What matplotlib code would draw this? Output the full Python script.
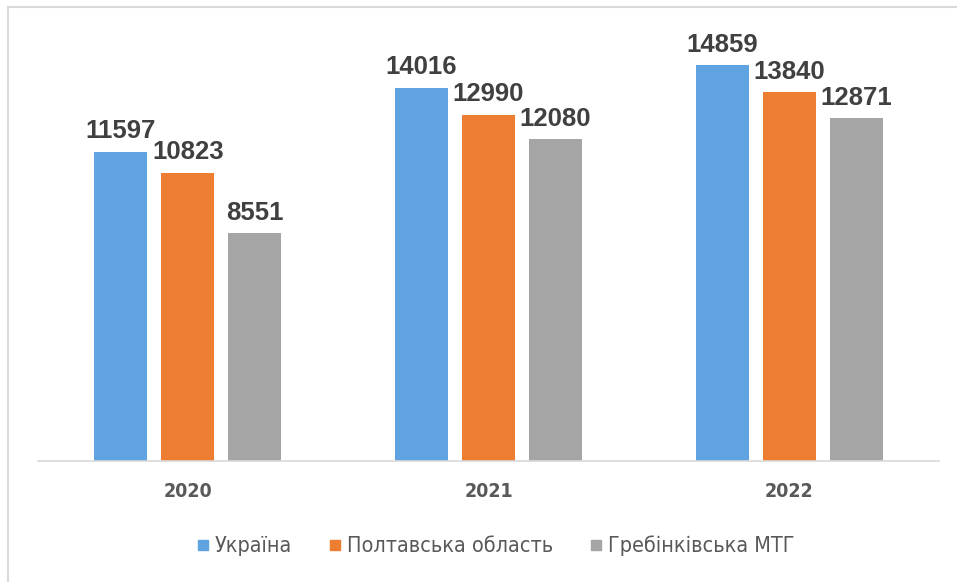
import matplotlib.pyplot as plt
from matplotlib.lines import Line2D
import numpy as np

# Дані
years = ['2020', '2021', '2022']
series = ['Україна', 'Полтавська область', 'Гребінківська МТГ']
ukraine = [11597, 14016, 14859]
poltava = [10823, 12990, 13840]
grebinka = [8551, 12080, 12871]
colors = ['#5FA3E0', '#ED7D31', '#A5A5A5']

fig = plt.figure(figsize=(9.57, 5.82), dpi=100)
ax = fig.add_axes([0.0392, 0.2079, 0.9425, 0.732])

x = np.arange(len(years))
width = 0.176
step = 0.2226
for i, (vals, col, name) in enumerate(zip([ukraine, poltava, grebinka], colors, series)):
    pos = x + (i - 1) * step
    ax.bar(pos, vals, width=width, color=col, label=name, zorder=2)
    for p, v in zip(pos, vals):
        ax.text(p, v + 330, str(v), ha='center', va='bottom',
                fontsize=18.5, fontweight='bold', color='#404040',
                family='Liberation Sans')

ax.set_xlim(-0.5, 2.5)
ax.set_ylim(0, 16000)
ax.set_yticks([])
ax.set_xticks(x)
ax.set_xticklabels(years, fontsize=14, fontweight='bold', color='#595959',
                   family='DejaVu Sans', fontstretch='condensed')
ax.tick_params(axis='x', length=0, pad=15)
for s in ['top', 'right', 'left']:
    ax.spines[s].set_visible(False)
ax.spines['bottom'].set_color('#D9D9D9')
ax.spines['bottom'].set_linewidth(1.2)

handles = [Line2D([], [], marker='s', linestyle='none', markersize=7.5,
                  markerfacecolor=c, markeredgecolor=c) for c in colors]
leg = fig.legend(handles, series, loc='center', bbox_to_anchor=(0.518, 0.062),
                 ncol=3, frameon=False, handlelength=0.6, handletextpad=0.25,
                 columnspacing=1.7,
                 prop={'family': 'DejaVu Sans', 'stretch': 'condensed', 'size': 15.5})
for t in leg.get_texts():
    t.set_color('#595959')

# рамка
fig.add_artist(Line2D([8 / 957, 1], [1 - 7 / 582, 1 - 7 / 582], color='#D9D9D9', lw=1.5,
                      transform=fig.transFigure))
fig.add_artist(Line2D([8 / 957, 8 / 957], [0, 1 - 7 / 582], color='#D9D9D9', lw=1.5,
                      transform=fig.transFigure))

fig.savefig('out.png', dpi=100)
